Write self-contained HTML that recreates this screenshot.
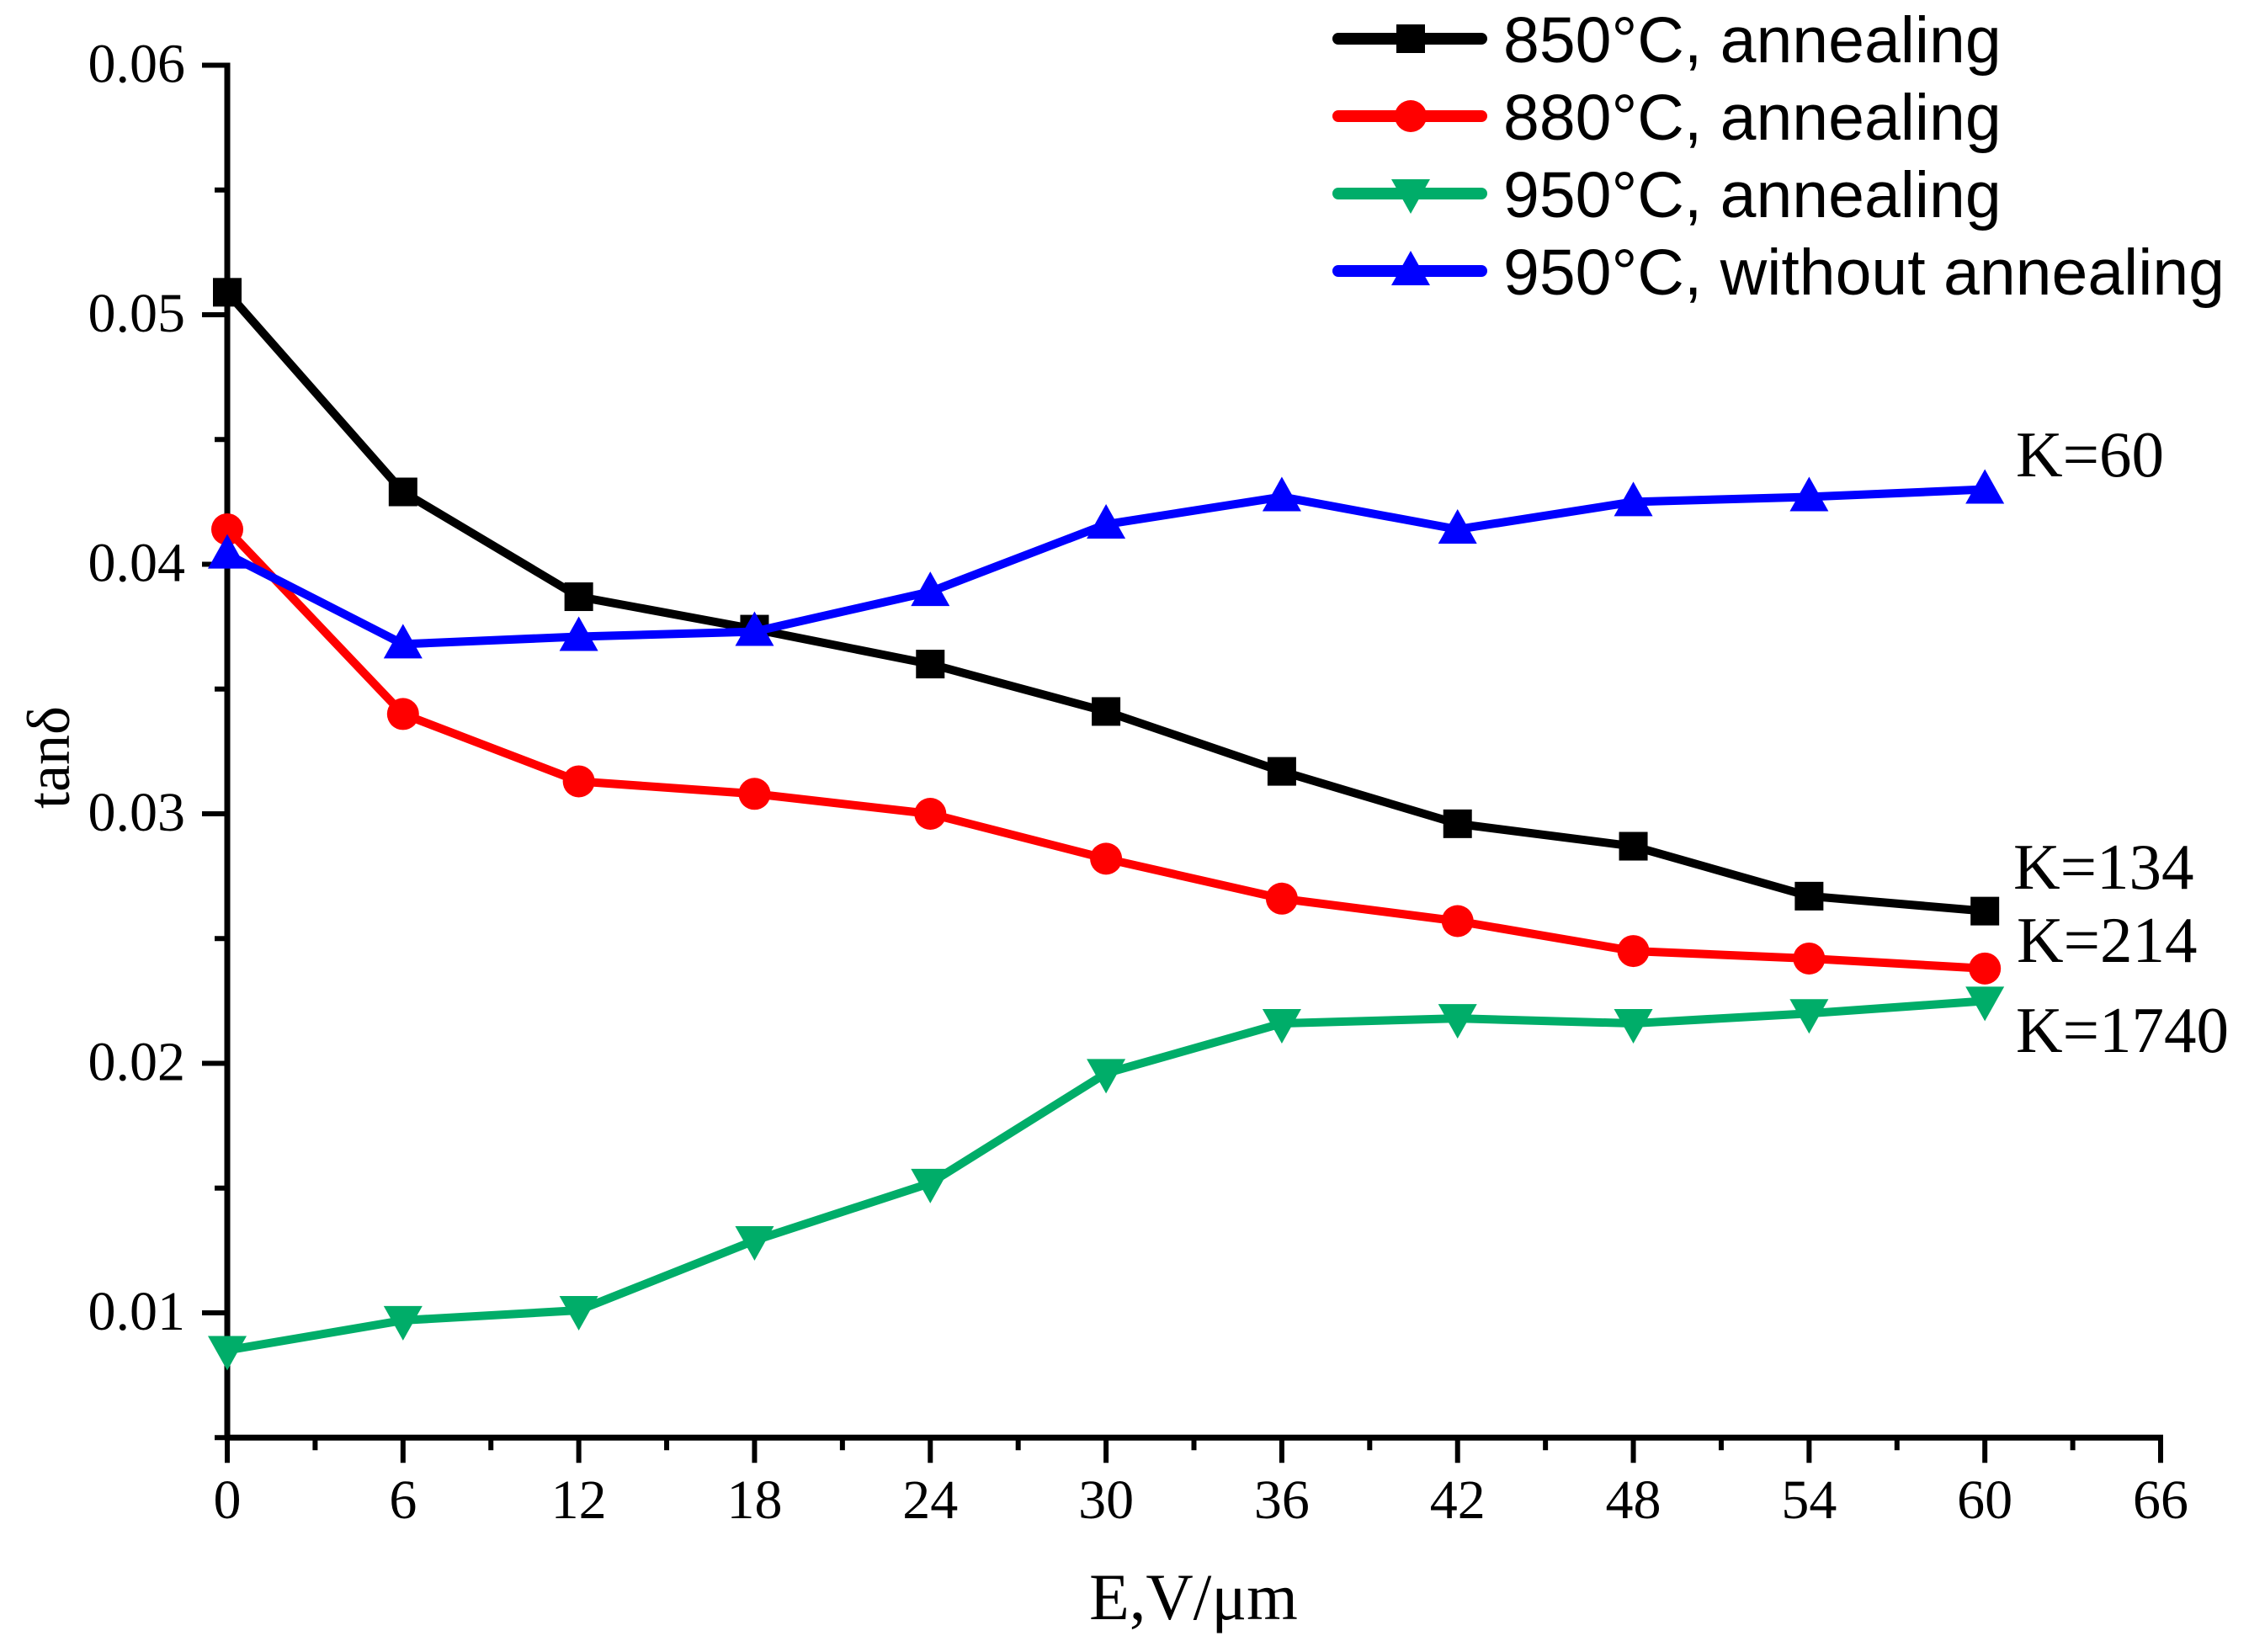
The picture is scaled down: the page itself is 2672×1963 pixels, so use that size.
<!DOCTYPE html>
<html><head><meta charset="utf-8"><style>
html,body{margin:0;padding:0;background:#fff;}
svg{display:block;}
</style></head><body>
<svg id="chart" width="2672" height="1963" viewBox="0 0 2672 1963" xmlns="http://www.w3.org/2000/svg"></svg>
<script>
const xCats = [0,6,12,18,24,30,36,42,48,54,60];
const s850 = [0.0509,0.0429,0.0387,0.0374,0.0360,0.0341,0.0317,0.0296,0.0287,0.0267,0.0261];
const s880 = [0.0414,0.0340,0.0313,0.0308,0.0300,0.0282,0.0266,0.0257,0.0245,0.0242,0.0238];
const s950a = [0.0085,0.0097,0.0101,0.0129,0.0152,0.0196,0.0216,0.0218,0.0216,0.0220,0.0225];
const s950n = [0.0404,0.0368,0.0371,0.0373,0.0389,0.0416,0.0427,0.0414,0.0425,0.0427,0.0430];
const xTicks = [0,6,12,18,24,30,36,42,48,54,60,66];
const yTicks = [0.01,0.02,0.03,0.04,0.05,0.06];
const yTickLabels = ["0.01","0.02","0.03","0.04","0.05","0.06"];
const seriesNames = ["850°C, annealing","880°C, annealing","950°C, annealing","950°C, without annealing"];
const kLabels = ["K=60","K=134","K=214","K=1740"];

const NS="http://www.w3.org/2000/svg";
const svg=document.getElementById('chart');
const X0=270, X1=2567, Y06=77.5, Y01=1560;
const xs=v=>X0+(v-0)/(66-0)*(X1-X0);
const ys=v=>Y06+(0.06-v)/(0.05)*(Y01-Y06);
function mk(tag,attrs,parent){const e=document.createElementNS(NS,tag);for(const k in attrs)e.setAttribute(k,attrs[k]);(parent||svg).appendChild(e);return e;}

const axes=mk('g',{});


const yBottom=ys(0.005);
mk('line',{x1:X0,y1:Y06-3,x2:X0,y2:yBottom+3,stroke:'#000','stroke-width':7},axes);
mk('line',{x1:X0-3,y1:yBottom,x2:X1+3,y2:yBottom,stroke:'#000','stroke-width':7},axes);
for(let v=0.005; v<=0.0601; v+=0.005){
  const major=Math.abs(Math.round(v*100)-v*100)<1e-6;
  mk('line',{x1:X0-(major?30:15),y1:ys(v),x2:X0,y2:ys(v),stroke:'#000','stroke-width':6},axes);
}
yTicks.forEach((v,i)=>{
  const t=mk('text',{x:220,y:ys(v)+20,'text-anchor':'end','font-family':'Liberation Serif, serif','font-size':66},axes);
  t.textContent=yTickLabels[i];
  
  
});
for(let v=0; v<=66; v+=3){
  const major=v%6===0;
  mk('line',{x1:xs(v),y1:yBottom,x2:xs(v),y2:yBottom+(major?30:15),stroke:'#000','stroke-width':6},axes);
}
xTicks.forEach(v=>{
  const t=mk('text',{x:xs(v),y:1804,'text-anchor':'middle','font-family':'Liberation Serif, serif','font-size':66},axes);
  t.textContent=String(v);
  
  
});
const xt=mk('text',{x:1418,y:1924,'text-anchor':'middle','font-family':'Liberation Serif, serif','font-size':78});
xt.textContent='E,V/μm';


const yt=mk('text',{x:0,y:0,'text-anchor':'middle','font-family':'Liberation Serif, serif','font-size':72,transform:'translate(82,900) rotate(-90)'});
yt.textContent='tanδ';



function marker(kind,cx,cy,color,parent){
  if(kind==='square') return mk('rect',{x:cx-17,y:cy-17,width:34,height:34,fill:color},parent);
  if(kind==='circle') return mk('circle',{cx:cx,cy:cy,r:19,fill:color},parent);
  if(kind==='down') return mk('polygon',{points:`${cx-23},${cy-17} ${cx+23},${cy-17} ${cx},${cy+24}`,fill:color},parent);
  return mk('polygon',{points:`${cx-23},${cy+17} ${cx+23},${cy+17} ${cx},${cy-24}`,fill:color},parent);
}
const series=[[s850,'#000000','square','series-850-annealing'],[s880,'#ff0000','circle','series-880-annealing'],[s950a,'#00ad69','down','series-950-annealing'],[s950n,'#0000ff','up','series-950-without-annealing']];
const drawOrder=[2,1,0,3];
drawOrder.forEach(i=>{
  const [data,color,kind,name]=series[i];
  const g=mk('g',{});
  
  
  const pts=data.map((v,j)=>xs(xCats[j])+','+ys(v)).join(' ');
  mk('polyline',{points:pts,fill:'none',stroke:color,'stroke-width':10,'stroke-linejoin':'round'},g);
  data.forEach((v,j)=>{
    const m=marker(kind,xs(xCats[j]),ys(v),color,g);
    
    
  });
});

const leg=mk('g',{});


const legY=[46,138,230,322];
series.forEach((s,i)=>{
  const e=mk('g',{},leg);
  
  
  mk('line',{x1:1590,y1:legY[i],x2:1760,y2:legY[i],stroke:s[1],'stroke-width':14,'stroke-linecap':'round'},e);
  marker(s[2],1676,legY[i],s[1],e);
  const t=mk('text',{x:1786,y:legY[i]+28,'font-family':'Liberation Sans, sans-serif','font-size':77},e);
  t.textContent=seriesNames[i];
});

const kPos=[[2395,566],[2392,1056],[2396,1143],[2395,1250]];
kLabels.forEach((k,i)=>{
  const t=mk('text',{x:kPos[i][0],y:kPos[i][1],'font-family':'Liberation Serif, serif','font-size':77});
  t.textContent=k;
  
  
});
</script>
</body></html>
